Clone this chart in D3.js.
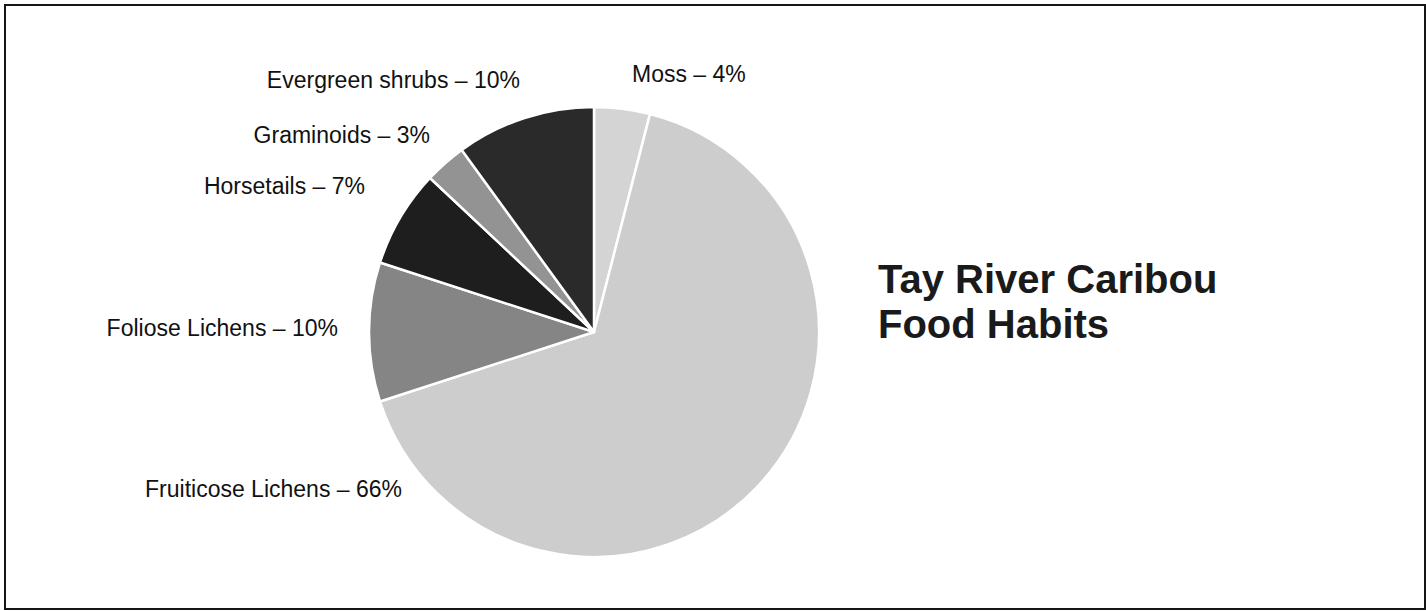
<!DOCTYPE html>
<html>
<head>
<meta charset="utf-8">
<script src="https://cdn.jsdelivr.net/npm/d3@7"></script>
<style>
  html, body { margin: 0; padding: 0; background: #fff; }
  svg { display: block; }
</style>
</head>
<body>
<svg id="chart" width="1426" height="611"></svg>
<script>
// ---- data ----
const categories = ["Moss", "Fruiticose Lichens", "Foliose Lichens", "Horsetails", "Graminoids", "Evergreen shrubs"];
const values = [4, 66, 10, 7, 3, 10];
const titleLines = ["Tay River Caribou", "Food Habits"];

// ---- styles / layout ----
const fills = ["#d4d4d4", "#cdcdcd", "#858585", "#1e1e1e", "#939393", "#2a2a2a"];
// label placement: [x, baseline y, anchor]
const labelPos = [
  [632, 82, "start"],
  [402, 497, "end"],
  [338, 336, "end"],
  [365, 194, "end"],
  [430, 143, "end"],
  [520, 88, "end"]
];

const svg = d3.select("#chart");
const W = 1426, H = 611;

// frame
svg.append("rect")
  .attr("x", 5).attr("y", 5).attr("width", 1420).attr("height", 604)
  .attr("fill", "none").attr("stroke", "#151515").attr("stroke-width", 2);

const cx = 594, cy = 332, R = 225;
const pie = d3.pie().sort(null).value(d => d)(values);
const arc = d3.arc().innerRadius(0).outerRadius(R);

const g = svg.append("g").attr("transform", `translate(${cx},${cy})`);
g.selectAll("path.slice")
  .data(pie)
  .join("path")
  .attr("class", "slice")
  .attr("d", arc)
  .attr("fill", (d, i) => fills[i])
  .attr("stroke", "#fff")
  .attr("stroke-width", 2.5)
  .attr("stroke-linejoin", "round");

// labels
svg.selectAll("text.lbl")
  .data(categories)
  .join("text")
  .attr("class", "lbl")
  .attr("x", (d, i) => labelPos[i][0])
  .attr("y", (d, i) => labelPos[i][1])
  .attr("text-anchor", (d, i) => labelPos[i][2])
  .attr("font-family", "'Liberation Sans', Arial, sans-serif")
  .attr("font-size", 23)
  .attr("fill", "#111")
  .text((d, i) => `${d} – ${values[i]}%`);

// title
svg.selectAll("text.title")
  .data(titleLines)
  .join("text")
  .attr("class", "title")
  .attr("x", 878)
  .attr("y", (d, i) => 293 + i * 45)
  .attr("font-family", "'Liberation Sans', Arial, sans-serif")
  .attr("font-weight", "bold")
  .attr("font-size", 40)
  .attr("fill", "#1a1a1a")
  .text(d => d);
</script>
</body>
</html>
